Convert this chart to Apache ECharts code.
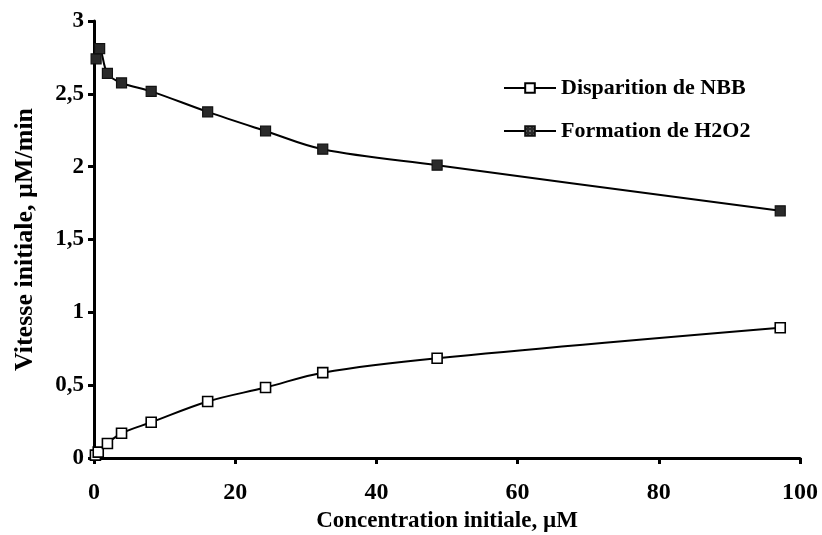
<!DOCTYPE html>
<html>
<head>
<meta charset="utf-8">
<script src="https://cdn.jsdelivr.net/npm/echarts@6/dist/echarts.min.js"></script>
<style>
html,body{margin:0;padding:0;background:#fff;}
#chart{width:822px;height:535px;}
</style>
</head>
<body>
<div id="chart"></div>
<script>
// Data
var nbbX = [0.2, 0.6, 1.9, 3.9, 8.1, 16.1, 24.3, 32.4, 48.6, 97.2];
var nbbY = [0.02, 0.04, 0.10, 0.17, 0.245, 0.388, 0.484, 0.586, 0.685, 0.894];
var h2o2X = [0.3, 0.8, 1.9, 3.9, 8.1, 16.1, 24.3, 32.4, 48.6, 97.2];
var h2o2Y = [2.74, 2.81, 2.64, 2.575, 2.517, 2.376, 2.245, 2.12, 2.01, 1.697];
var seriesNames = ['Disparition de NBB', 'Formation de H2O2'];
var xTitle = 'Concentration initiale, µM';
var yTitle = 'Vitesse initiale, µM/min';

function pairs(xs, ys) { return xs.map(function (x, i) { return [x, ys[i]]; }); }

// small dark grid pattern used as marker fill
var pat = document.createElement('canvas');
pat.width = 4; pat.height = 4;
var pctx = pat.getContext('2d');
pctx.fillStyle = '#2a2a2a'; pctx.fillRect(0, 0, 4, 4);
pctx.fillStyle = '#6a6a6a'; pctx.fillRect(1, 1, 2, 2);

var FONT = "'Liberation Serif', 'Times New Roman', serif";
var chart = echarts.init(document.getElementById('chart'), null, {renderer: 'canvas'});

var option = {
  backgroundColor: '#ffffff',
  animation: false,
  grid: {left: 94, right: 22, top: 21, bottom: 77, containLabel: false, outerBoundsMode: 'none'},
  legend: {
    orient: 'vertical',
    left: 498,
    top: 72,
    itemWidth: 52,
    itemHeight: 12,
    itemGap: 21,
    textStyle: {fontFamily: FONT, fontWeight: 'bold', fontSize: 22, color: '#000'},
    data: seriesNames
  },
  xAxis: {
    type: 'value', min: 0, max: 100, interval: 20,
    name: xTitle, nameLocation: 'middle', nameGap: 52,
    nameTextStyle: {fontFamily: FONT, fontWeight: 'bold', fontSize: 23, color: '#000'},
    axisLine: {show: true, onZero: false, lineStyle: {color: '#000', width: 3}},
    axisTick: {show: true, inside: false, length: 6, lineStyle: {color: '#000', width: 3}},
    axisLabel: {fontFamily: FONT, fontWeight: 'bold', fontSize: 24, color: '#000', margin: 23},
    splitLine: {show: false}
  },
  yAxis: {
    type: 'value', min: 0, max: 3, interval: 0.5,
    name: yTitle, nameLocation: 'middle', nameGap: 56, nameRotate: 90,
    nameTextStyle: {fontFamily: FONT, fontWeight: 'bold', fontSize: 26, color: '#000'},
    axisLine: {show: true, onZero: false, lineStyle: {color: '#000', width: 3}},
    axisTick: {show: true, inside: false, length: 6, lineStyle: {color: '#000', width: 3}},
    axisLabel: {fontFamily: FONT, fontWeight: 'bold', fontSize: 23, color: '#000', margin: 10,
      formatter: function (v) { return String(v).replace('.', ','); }},
    splitLine: {show: false}
  },
  series: [
    {
      name: seriesNames[0], type: 'line', smooth: 0.35,
      data: pairs(nbbX, nbbY),
      symbol: 'rect', symbolSize: 10, showAllSymbol: true,
      lineStyle: {color: '#000', width: 2},
      itemStyle: {color: '#ffffff', borderColor: '#000', borderWidth: 1.6}
    },
    {
      name: seriesNames[1], type: 'line', smooth: 0.35,
      data: pairs(h2o2X, h2o2Y),
      symbol: 'rect', symbolSize: 10, showAllSymbol: true,
      lineStyle: {color: '#000', width: 2},
      itemStyle: {color: {image: pat, repeat: 'repeat'}, borderColor: '#111', borderWidth: 1.2}
    }
  ]
};
chart.setOption(option);
</script>
</body>
</html>
